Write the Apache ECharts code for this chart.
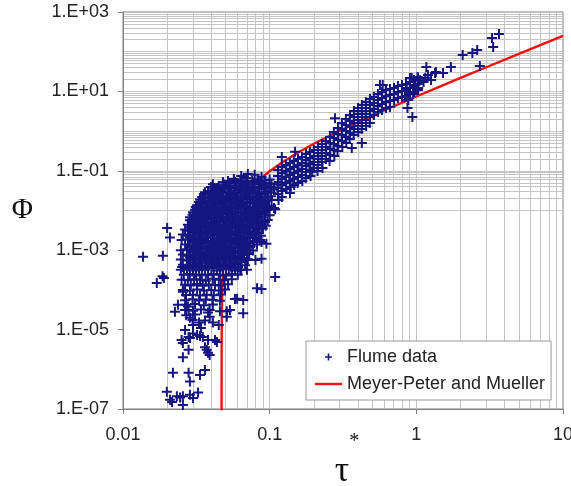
<!DOCTYPE html>
<html>
<head>
<meta charset="utf-8">
<script src="https://cdn.jsdelivr.net/npm/echarts@6/dist/echarts.min.js"></script>
<style>
  html, body { margin: 0; padding: 0; background: #fff; }
  #chart { width: 571px; height: 486px; }
</style>
</head>
<body>
<div id="chart"></div>
<script>
// Meyer-Peter and Mueller curve
var mpmTau = [0.047003, 0.04701, 0.04705, 0.0471, 0.0473, 0.0475, 0.048, 0.049, 0.05, 0.052, 0.055, 0.06, 0.065, 0.07, 0.08, 0.09, 0.1, 0.12, 0.15, 0.2, 0.3, 0.5, 0.7, 1, 1.5, 2, 3, 5, 7, 10];
var mpmPhi = [4.2e-8, 2.5e-7, 2.8e-6, 8e-6, 4.2e-5, 8.9e-5, 2.5e-4, 7.2e-4, 1.3e-3, 2.8e-3, 5.7e-3, 0.0119, 0.0193, 0.0279, 0.048, 0.0713, 0.0976, 0.158, 0.264, 0.479, 1.02, 2.44, 4.22, 7.44, 14.0, 21.8, 40.6, 88.2, 146.7, 251];

// flume data [tau*, phi], grouped by region of the cloud
var leftPoints = [
  [0.0137,6.8e-4],[0.0187,7.2e-4],[0.0186,2.2e-4],[0.019,2.0e-4],[0.017,1.5e-4],[0.0209,2.1e-3],
  [0.02,3.6e-3],[0.0277,3.2e-3],[0.0296,6.0e-3],[0.0305,5.5e-3],[0.039,7.8e-3],[0.041,0.027],
  [0.042,0.037],[0.043,0.033]
];
var tailPoints = [
  [0.0253,3.8e-4],[0.0286,4.2e-4],[0.0256,9e-5],[0.0237,4.2e-5],[0.0226,2.8e-5],[0.0277,3.8e-5],
  [0.028,3.1e-5],[0.0286,2.0e-5],[0.0298,1.75e-5],[0.0265,9.8e-6],[0.0251,5.5e-6],[0.0256,4.6e-6],
  [0.028,6.5e-6],[0.0286,6.1e-6],[0.03,8e-6],[0.032,7.3e-6],[0.0335,6.9e-6],[0.035,6.5e-6],
  [0.038,5.5e-6],[0.0362,3.6e-6],[0.0372,3.1e-6],[0.038,2.6e-6],[0.039,2.3e-6],[0.0424,5.5e-6],
  [0.0437,4.9e-6],[0.0256,2.0e-6],[0.028,3.1e-6],[0.0219,8.2e-7],[0.028,8.2e-7],[0.0286,4.9e-7],
  [0.0335,7.2e-7],[0.0362,9.6e-7],[0.0199,2.7e-7],[0.0209,1.7e-7],[0.0216,1.5e-7],[0.0233,2.1e-7],
  [0.0245,1.95e-7],[0.0256,2.1e-7],[0.0256,1.26e-7],[0.0286,2.3e-7],[0.0325,2.6e-7],[0.03,1.9e-7],
  [0.0458,2.9e-5],[0.051,2.9e-5],[0.0536,3.1e-5],[0.045,1.3e-5],[0.041,1.5e-5],[0.058,5.9e-5],
  [0.066,5.6e-5],[0.066,2.6e-5],[0.082,1.1e-4],[0.088,1.05e-4],[0.109,2.1e-4],[0.06,6e-5],
  [0.051,2.1e-5],[0.038,2.7e-5],[0.039,2.1e-5],[0.027,2.3e-5],[0.031,2.4e-5],[0.033,1.5e-5],
  [0.0362,1.7e-5],[0.03,1.3e-5],[0.034,1.1e-5],
  [0.07,5.7e-4],[0.08,5.7e-4],[0.088,6.1e-4],[0.063,3.2e-4],[0.07,3.2e-4],[0.058,4.5e-4],
  [0.088,1.6e-3],[0.095,1.45e-3],[0.107,0.0115],[0.109,0.0108]
];
var corePoints = [
  [0.064,0.074],[0.071,0.083],[0.079,0.079],[0.088,0.07],
  [0.052,0.055],[0.057,0.062],[0.063,0.058],[0.069,0.066],[0.076,0.056],[0.083,0.061],[0.092,0.057],[0.1,0.06],
  [0.041,0.046],[0.045,0.041],[0.049,0.045],[0.054,0.042],[0.059,0.047],[0.065,0.043],[0.071,0.045],[0.078,0.04],[0.086,0.046],[0.094,0.043],[0.103,0.047],[0.114,0.045],
  [0.038,0.031],[0.042,0.034],[0.046,0.032],[0.05,0.035],[0.055,0.031],[0.061,0.033],[0.067,0.03],[0.073,0.034],[0.08,0.032],[0.088,0.035],[0.097,0.031],[0.107,0.034],
  [0.0356,0.026],[0.039,0.023],[0.043,0.025],[0.047,0.027],[0.052,0.024],[0.057,0.026],[0.063,0.023],[0.069,0.025],[0.076,0.027],[0.083,0.024],[0.092,0.026],[0.102,0.023],
  [0.0335,0.019],[0.0367,0.017],[0.041,0.0195],[0.045,0.018],[0.049,0.0175],[0.054,0.019],[0.059,0.0185],[0.065,0.017],[0.071,0.0195],[0.078,0.018],[0.086,0.019],[0.094,0.017],[0.103,0.0185],
  [0.032,0.0135],[0.035,0.0145],[0.0385,0.013],[0.0424,0.014],[0.0465,0.015],[0.051,0.013],[0.056,0.0142],[0.062,0.0138],[0.068,0.013],[0.074,0.0148],[0.082,0.0135],[0.09,0.014],[0.099,0.013],
  [0.031,0.0105],[0.034,0.0098],[0.0372,0.011],[0.0408,0.01],[0.045,0.0097],[0.0496,0.0108],[0.0545,0.0102],[0.0602,0.0096],[0.066,0.011],[0.0725,0.0101],[0.079,0.0106],[0.0875,0.0097],[0.096,0.0103],
  [0.0298,0.0078],[0.0325,0.0073],[0.0356,0.0081],[0.039,0.0075],[0.043,0.0079],[0.047,0.0072],[0.052,0.008],[0.057,0.0076],[0.063,0.0074],[0.069,0.0082],[0.076,0.0077],[0.083,0.0073],[0.092,0.0079],[0.1,0.0076],
  [0.0286,0.0057],[0.0315,0.006],[0.0345,0.0055],[0.038,0.0059],[0.0416,0.0062],[0.0458,0.0056],[0.0504,0.0058],[0.0552,0.0061],[0.0606,0.0054],[0.067,0.0059],[0.0734,0.0057],[0.0806,0.0062],[0.0885,0.0055],[0.097,0.0058],
  [0.0277,0.0044],[0.0305,0.0041],[0.0335,0.0045],[0.0367,0.0042],[0.041,0.0046],[0.045,0.004],[0.049,0.0043],[0.0536,0.0045],[0.059,0.0041],[0.065,0.0044],[0.071,0.0042],[0.078,0.0046],[0.0859,0.0043],[0.094,0.0041],
  [0.0265,0.0033],[0.029,0.0031],[0.032,0.0034],[0.035,0.003],[0.0385,0.0032],[0.0424,0.0035],[0.0465,0.0031],[0.051,0.0033],[0.056,0.003],[0.062,0.0034],[0.068,0.0032],[0.074,0.0031],[0.082,0.0033],[0.09,0.0035],
  [0.0256,0.0025],[0.0281,0.0023],[0.031,0.0024],[0.034,0.0026],[0.0372,0.0022],[0.0408,0.0025],[0.045,0.0024],[0.0496,0.0023],[0.0545,0.0026],[0.0602,0.0024],[0.066,0.0022],[0.0725,0.0025],[0.079,0.0024],[0.0875,0.0023],
  [0.0251,0.0018],[0.0277,0.0019],[0.0305,0.0017],[0.0335,0.0018],[0.0367,0.002],[0.041,0.0017],[0.045,0.0019],[0.049,0.0018],[0.0536,0.0017],[0.059,0.0019],[0.065,0.0018],[0.071,0.002],[0.078,0.0017],[0.0859,0.0018],
  [0.0265,0.0014],[0.029,0.0013],[0.032,0.00135],[0.035,0.00145],[0.0385,0.0013],[0.0424,0.0014],[0.0465,0.00135],[0.051,0.00128],[0.056,0.00142],[0.062,0.00133],[0.068,0.00138],[0.074,0.0013],[0.082,0.0014],
  [0.0248,0.001],[0.0273,0.00105],[0.03,0.00095],[0.033,0.00102],[0.0362,0.00108],[0.04,0.00097],[0.0437,0.00103],[0.048,0.00096],[0.0527,0.00106],[0.058,0.001],[0.064,0.00094],[0.07,0.00104],[0.077,0.00098],
  [0.0256,7.8e-4],[0.0281,7.3e-4],[0.031,7.9e-4],[0.034,7.5e-4],[0.0372,8e-4],[0.0408,7.2e-4],[0.045,7.7e-4],[0.0496,7.4e-4],[0.0545,7.9e-4],[0.0602,7.3e-4],[0.066,7.6e-4],[0.0725,8e-4],
  [0.0248,5.8e-4],[0.0273,5.5e-4],[0.03,6e-4],[0.033,5.6e-4],[0.0362,5.9e-4],[0.04,5.4e-4],[0.0437,5.7e-4],[0.048,6e-4],[0.0527,5.5e-4],[0.058,5.8e-4],[0.064,5.6e-4],[0.071,5.9e-4],
  [0.0256,4.3e-4],[0.0281,4.1e-4],[0.031,4.4e-4],[0.034,4e-4],[0.0372,4.2e-4],[0.0408,4.5e-4],[0.045,4.1e-4],[0.0496,4.3e-4],[0.0545,4e-4],[0.0602,4.4e-4],[0.068,4.2e-4],
  [0.0248,3.2e-4],[0.0273,3.4e-4],[0.03,3.1e-4],[0.033,3.3e-4],[0.0362,3.2e-4],[0.04,3.5e-4],[0.0437,3.1e-4],[0.048,3.3e-4],[0.0527,3.4e-4],[0.058,3.1e-4],[0.064,3.2e-4],
  [0.026,2.4e-4],[0.0286,2.5e-4],[0.0315,2.3e-4],[0.0345,2.45e-4],[0.038,2.35e-4],[0.0416,2.5e-4],[0.0458,2.4e-4],[0.0504,2.3e-4],[0.0552,2.5e-4],[0.0606,2.4e-4],
  [0.0251,1.8e-4],[0.0277,1.75e-4],[0.0305,1.85e-4],[0.0335,1.8e-4],[0.0367,1.7e-4],[0.041,1.9e-4],[0.045,1.8e-4],[0.049,1.75e-4],[0.0552,1.85e-4],
  [0.0265,1.35e-4],[0.029,1.3e-4],[0.032,1.4e-4],[0.035,1.28e-4],[0.0385,1.36e-4],[0.0424,1.32e-4],[0.0465,1.3e-4],[0.052,1.38e-4],
  [0.0256,1e-4],[0.0286,9.5e-5],[0.032,1.02e-4],[0.0356,9.7e-5],[0.04,1e-4],[0.045,9.6e-5],[0.0496,1.03e-4],
  [0.0269,7.4e-5],[0.03,7.6e-5],[0.0335,7.2e-5],[0.0372,7.5e-5],[0.0416,7.3e-5],[0.0465,7.7e-5],
  [0.0265,5.5e-5],[0.0298,5.8e-5],[0.033,5.4e-5],[0.0367,5.7e-5],[0.0408,5.6e-5],[0.0458,5.3e-5],
  [0.0269,4.2e-5],[0.031,4.4e-5],[0.0356,4.1e-5],[0.041,4.3e-5],
  [0.0265,3.1e-5],[0.03,3.0e-5],[0.034,3.2e-5],[0.039,3.1e-5]
];
// the densest part of the cloud, between the rows above
var coreFillPoints = [
  [0.048,0.052],[0.0528,0.049],[0.058,0.053],[0.0637,0.049],[0.07,0.052],[0.0769,0.05],[0.0845,0.053],[0.0929,0.049],
  [0.0398,0.039],[0.0438,0.037],[0.048,0.039],[0.0528,0.037],[0.058,0.0395],[0.0637,0.0365],[0.07,0.039],[0.0769,0.037],[0.0845,0.0395],[0.0929,0.037],[0.102,0.039],
  [0.0362,0.029],[0.0398,0.0275],[0.0438,0.029],[0.048,0.0278],[0.0528,0.0293],[0.058,0.0276],[0.0637,0.029],[0.07,0.0278],[0.0769,0.0292],[0.0845,0.0277],[0.0929,0.029],[0.102,0.0278],
  [0.0346,0.0218],[0.038,0.0207],[0.0417,0.022],[0.0458,0.0208],[0.0504,0.0218],[0.0553,0.0206],[0.0608,0.022],[0.0668,0.0208],[0.0734,0.0219],[0.0806,0.0207],[0.0885,0.022],[0.0974,0.0208],
  [0.033,0.0163],[0.0362,0.0155],[0.0398,0.0164],[0.0438,0.0155],[0.048,0.0163],[0.0528,0.0154],[0.058,0.0164],[0.0637,0.0155],[0.07,0.0163],[0.0769,0.0154],[0.0845,0.0164],[0.0929,0.0155],
  [0.0314,0.0122],[0.0346,0.0116],[0.038,0.0122],[0.0417,0.0115],[0.0458,0.0123],[0.0504,0.0116],[0.0553,0.0122],[0.0608,0.0115],[0.0668,0.0123],[0.0734,0.0116],[0.0806,0.0122],[0.0885,0.0115],[0.0974,0.0122],
  [0.03,0.0091],[0.033,0.0087],[0.0362,0.0092],[0.0398,0.0086],[0.0438,0.0091],[0.048,0.0087],[0.0528,0.0092],[0.058,0.0086],[0.0637,0.0091],[0.07,0.0087],[0.0769,0.0092],[0.0845,0.0086],[0.0929,0.0091],
  [0.0286,0.0068],[0.0314,0.0065],[0.0346,0.0069],[0.038,0.0065],[0.0417,0.0068],[0.0458,0.0064],[0.0504,0.0069],[0.0553,0.0065],[0.0608,0.0068],[0.0668,0.0065],[0.0734,0.0069],[0.0806,0.0064],[0.0885,0.0068],
  [0.03,0.0051],[0.033,0.0049],[0.0362,0.0051],[0.0398,0.0048],[0.0438,0.0051],[0.048,0.0049],[0.0528,0.0051],[0.058,0.0048],[0.0637,0.0051],[0.07,0.0049],[0.0769,0.0051],[0.0845,0.0048],[0.0929,0.0051],
  [0.0286,0.0038],[0.0314,0.0036],[0.0346,0.0038],[0.038,0.0036],[0.0417,0.0038],[0.0458,0.0036],[0.0504,0.0038],[0.0553,0.0036],[0.0608,0.0038],[0.0668,0.0036],[0.0734,0.0038],[0.0806,0.0036],[0.0885,0.0038],
  [0.03,0.00285],[0.033,0.00272],[0.0362,0.00286],[0.0398,0.00271],[0.0438,0.00285],[0.048,0.00272],[0.0528,0.00286],[0.058,0.00271],[0.0637,0.00285],[0.07,0.00272],[0.0769,0.00286],[0.0845,0.00271],
  [0.0286,0.00213],[0.0314,0.00204],[0.0346,0.00214],[0.038,0.00203],[0.0417,0.00213],[0.0458,0.00204],[0.0504,0.00214],[0.0553,0.00203],[0.0608,0.00213],[0.0668,0.00204],[0.0734,0.00214],[0.0806,0.00203],
  [0.03,0.0016],[0.033,0.00152],[0.0362,0.0016],[0.0398,0.00152],[0.0438,0.0016],[0.048,0.00152],[0.0528,0.0016],[0.058,0.00152],[0.0637,0.0016],[0.07,0.00152],[0.0769,0.0016],
  [0.0286,0.0012],[0.0314,0.00114],[0.0346,0.0012],[0.038,0.00114],[0.0417,0.0012],[0.0458,0.00114],[0.0504,0.0012],[0.0553,0.00114],[0.0608,0.0012],[0.0668,0.00114],[0.0734,0.0012],
  [0.03,9e-4],[0.033,8.5e-4],[0.0362,9e-4],[0.0398,8.5e-4],[0.0438,9e-4],[0.048,8.5e-4],[0.0528,9e-4],[0.058,8.5e-4],[0.0637,9e-4],[0.07,8.5e-4],
  [0.0286,6.7e-4],[0.0314,6.4e-4],[0.0346,6.7e-4],[0.038,6.4e-4],[0.0417,6.7e-4],[0.0458,6.4e-4],[0.0504,6.7e-4],[0.0553,6.4e-4],[0.0608,6.7e-4],[0.0668,6.4e-4],
  [0.03,5e-4],[0.033,4.8e-4],[0.0362,5e-4],[0.0398,4.8e-4],[0.0438,5e-4],[0.048,4.8e-4],[0.0528,5e-4],[0.058,4.8e-4],[0.0637,5e-4],
  [0.0286,3.75e-4],[0.0314,3.6e-4],[0.0346,3.75e-4],[0.038,3.6e-4],[0.0417,3.75e-4],[0.0458,3.6e-4],[0.0504,3.75e-4],[0.0553,3.6e-4],[0.0608,3.75e-4]
];
var branchPoints = [
  [0.114,0.105],[0.114,0.074],[0.115,0.052],[0.113,0.037],[0.114,0.026],[0.115,0.0184],
  [0.121,0.125],[0.122,0.088],[0.121,0.062],[0.12,0.044],[0.122,0.031],[0.121,0.022],
  [0.129,0.14],[0.13,0.099],[0.128,0.07],[0.129,0.049],[0.13,0.035],
  [0.1375,0.157],[0.137,0.111],[0.138,0.078],[0.137,0.055],[0.139,0.039],[0.1375,0.0276],
  [0.146,0.177],[0.147,0.125],[0.146,0.088],[0.145,0.062],[0.147,0.044],
  [0.156,0.198],[0.155,0.14],[0.157,0.099],[0.156,0.07],[0.155,0.049],
  [0.166,0.223],[0.167,0.157],[0.165,0.111],[0.166,0.078],[0.167,0.055],
  [0.177,0.265],[0.176,0.187],[0.178,0.132],[0.177,0.093],[0.176,0.066],
  [0.188,0.298],[0.189,0.21],[0.187,0.148],[0.188,0.105],[0.19,0.074],
  [0.2,0.334],[0.201,0.236],[0.199,0.167],[0.2,0.118],
  [0.2135,0.398],[0.213,0.281],[0.215,0.198],[0.214,0.14],[0.212,0.099],
  [0.227,0.473],[0.228,0.334],[0.226,0.236],[0.227,0.167],[0.229,0.118],
  [0.242,0.563],[0.243,0.398],[0.241,0.281],[0.242,0.198],
  [0.258,0.71],[0.257,0.5],[0.259,0.354],[0.258,0.25],[0.256,0.177],
  [0.274,0.949],[0.275,0.67],[0.273,0.473],[0.274,0.334],[0.276,0.236],
  [0.292,1.2],[0.291,0.845],[0.293,0.597],[0.292,0.421],[0.29,0.315],
  [0.311,1.6],[0.312,1.13],[0.31,0.797],[0.311,0.563],[0.313,0.398],
  [0.331,2.02],[0.33,1.43],[0.332,1.0],[0.331,0.71],[0.333,0.5],
  [0.353,2.55],[0.352,1.8],[0.354,1.27],[0.353,0.895],[0.351,0.632],
  [0.376,3.21],[0.375,2.27],[0.377,1.6],[0.376,1.13],[0.374,0.797],
  [0.4,3.82],[0.401,2.7],[0.399,1.9],[0.4,1.34],[0.402,0.949],
  [0.426,4.54],[0.425,3.21],[0.427,2.27],[0.426,1.6],[0.424,1.13],
  [0.453,5.41],[0.454,3.82],[0.452,2.7],[0.453,1.9],[0.455,1.34],
  [0.483,6.44],[0.482,4.54],[0.484,3.21],[0.483,2.27],[0.481,1.6],
  [0.514,7.23],[0.515,5.11],[0.513,3.61],[0.514,2.55],
  [0.547,8.6],[0.546,6.07],[0.548,4.29],[0.547,3.03],
  [0.583,9.66],[0.584,6.82],[0.582,4.82],[0.583,3.4],
  [0.621,10.8],[0.62,7.66],[0.622,5.41],[0.621,3.82],
  [0.661,11.5],[0.662,8.11],[0.66,5.73],[0.661,4.05],
  [0.704,12.2],[0.703,8.6],[0.705,6.07],
  [0.749,13.7],[0.75,9.66],[0.748,6.82],
  [0.798,14.5],[0.797,10.2],[0.799,7.23],
  [0.85,15.4],[0.851,10.8],[0.849,7.66],
  [0.905,17.3],[0.904,12.2],[0.906,8.6],
  [0.963,19.4],[0.962,13.7],[0.964,9.66],
  [1.025,21.8],[1.024,15.4],[1.026,10.8],
  [0.121,0.223],[0.149,0.3],[0.195,0.094],[0.363,0.375],[0.425,0.5],[0.59,14.5],[0.87,3.8],
  [0.94,2.26],[0.279,2.1],[0.565,14.5]
];
var highPoints = [
  [0.904,21.8],[1.02,23],[1.17,41],[1.2,25.9],[1.34,29],[1.52,29],[1.72,41],[2.07,82.6],
  [2.41,92.7],[2.6,110],[2.71,43.6],[3.28,221],[3.66,279],[3.34,131],[0.93,21.8],[0.98,14.5],
  [1.03,12.2],[0.86,12.2],[0.904,9.6],[0.95,8.6],[0.836,7.2],[0.88,6.07],[1.12,17.3],[1.26,19.4],
  [1.36,30.8],[1.06,19],[1.15,22]
];
var flumeData = leftPoints.concat(tailPoints, corePoints, coreFillPoints, branchPoints, highPoints);

var mpmData = mpmTau.map(function (t, i) { return [t, mpmPhi[i]]; });

// light grid at 1..9 of every decade
var gridLines = [];
[0.01, 0.1, 1].forEach(function (d) {
  for (var k = 2; k <= 9; k++) gridLines.push({ xAxis: +(d * k).toPrecision(3) });
});
gridLines.push({ xAxis: 0.1 }, { xAxis: 1 });
for (var e = -7; e < 3; e++) {
  for (var k = 1; k <= 9; k++) {
    if (e === -7 && k === 1) continue;
    gridLines.push({ yAxis: +(k * Math.pow(10, e)).toPrecision(3) });
  }
}

var plusSymbol = 'path://M4,0H6V4H10V6H6V10H4V6H0V4H4Z';
var plusIcon = 'path://M0,0M27,14M12.7,3.5H14.3V6.2H17V7.8H14.3V10.5H12.7V7.8H10V6.2H12.7Z';
var lineIcon = 'path://M0,0M27,14M0,5.8H27V8.2H0Z';

function expLabel(v) {
  var e = Math.round(Math.log10(v));
  var a = Math.abs(e);
  return '1.E' + (e < 0 ? '-' : '+') + (a < 10 ? '0' + a : a);
}

var chart = echarts.init(document.getElementById('chart'));
var option = {
  animation: false,
  grid: {
    left: 123, top: 12, right: 8, bottom: 77, outerBoundsMode: 'none',
    show: true, borderColor: '#808080', borderWidth: 1
  },
  legend: {
    orient: 'vertical', left: 306, top: 341,
    padding: [7, 6, 7, 9], itemGap: 9, itemWidth: 27, itemHeight: 14,
    backgroundColor: '#fff', borderColor: '#999', borderWidth: 1,
    textStyle: { fontFamily: 'Liberation Sans', fontSize: 18, color: '#222' },
    data: [{ name: 'Flume data', icon: plusIcon }, { name: 'Meyer-Peter and Mueller', icon: lineIcon }]
  },
  xAxis: {
    type: 'log', logBase: 10, min: 0.01, max: 10, interval: 1,
    splitLine: { show: false },
    axisLine: { lineStyle: { color: '#808080' } },
    axisTick: { length: 5, lineStyle: { color: '#808080' } },
    axisLabel: { fontFamily: 'Liberation Sans', fontSize: 18, color: '#222', margin: 17 },
    name: '{t|τ}{s|*}', nameLocation: 'middle', nameGap: 23, nameMoveOverlap: false,
    nameTextStyle: {
      padding: [0, 0, 0, 8],
      rich: {
        t: { fontFamily: 'Liberation Serif', fontSize: 36, lineHeight: 80, color: '#111' },
        s: { fontFamily: 'Liberation Serif', fontSize: 20, lineHeight: 20, color: '#111', verticalAlign: 'top' }
      }
    }
  },
  yAxis: {
    type: 'log', logBase: 10, min: 1e-7, max: 1e3, interval: 2,
    splitLine: { show: false },
    axisLine: { show: true, lineStyle: { color: '#808080' } },
    axisTick: { show: true, length: 5, lineStyle: { color: '#808080' } },
    axisLabel: { fontFamily: 'Liberation Sans', fontSize: 18, color: '#222', margin: 14, formatter: expLabel },
    name: 'Φ', nameLocation: 'middle', nameRotate: 0, nameGap: 90,
    nameTextStyle: { fontFamily: 'Liberation Serif', fontSize: 29, color: '#111' }
  },
  series: [
    {
      name: 'Meyer-Peter and Mueller', type: 'line', data: mpmData,
      showSymbol: false, z: 2, clip: true,
      lineStyle: { color: '#f01010', width: 2.4 }, itemStyle: { color: '#f01010' }
    },
    {
      name: 'Flume data', type: 'scatter', data: flumeData, z: 3,
      symbol: plusSymbol, symbolSize: 10, large: false,
      itemStyle: { color: '#161682', opacity: 1 },
      markLine: {
        silent: true, z: 0, symbol: ['none', 'none'], label: { show: false },
        lineStyle: { color: '#c4c4c4', width: 1, type: 'solid' },
        emphasis: { disabled: true },
        data: gridLines
      }
    }
  ]
};
chart.setOption(option);
</script>
</body>
</html>
